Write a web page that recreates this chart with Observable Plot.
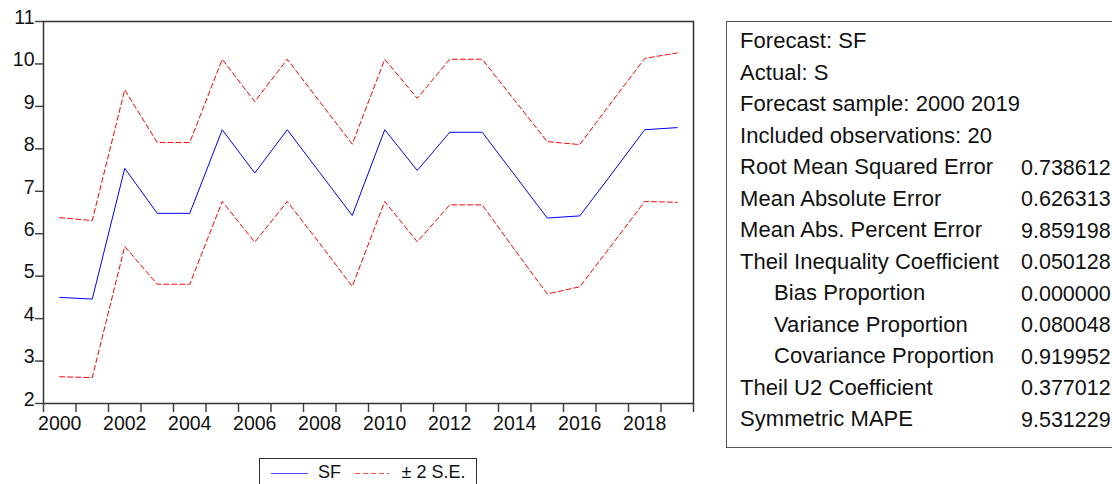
<!DOCTYPE html>
<html><head><meta charset="utf-8">
<script src="https://cdn.jsdelivr.net/npm/d3@7"></script>
<script src="https://cdn.jsdelivr.net/npm/@observablehq/plot@0.6"></script>
<style>
html,body{margin:0;padding:0;background:#fff;overflow:hidden;width:1112px;height:484px;}
#wrap{position:relative;width:1112px;height:484px;font-family:"Liberation Sans",Arial,sans-serif;color:#111;}
#wrap svg.chart{display:block;}
#wrap svg.chart text{font-size:19.5px !important;font-family:"Liberation Sans",Arial,sans-serif !important;}
#stats{position:absolute;left:726px;top:21px;width:420px;height:427px;border:1px solid #555;box-sizing:border-box;background:#fff;}
.row{position:absolute;font-size:21.5px;line-height:24px;white-space:nowrap;color:#111;}
.row.lab{font-size:22px;letter-spacing:0.05px;}
#legend{margin-left:259px;margin-top:3px;width:218px;height:40px;border:1px solid #333;box-sizing:border-box;}
</style></head><body><div id="wrap"></div>
<script>
// ---- data ----
const years = [2000,2001,2002,2003,2004,2005,2006,2007,2008,2009,2010,2011,2012,2013,2014,2015,2016,2017,2018,2019];
const sf    = [4.50,4.46,7.54,6.48,6.48,8.45,7.43,8.45,7.44,6.43,8.45,7.49,8.39,8.39,7.38,6.37,6.42,7.43,8.45,8.50];
const upper = [6.38,6.31,9.39,8.15,8.15,10.11,9.11,10.11,9.11,8.11,10.11,9.19,10.11,10.11,9.14,8.17,8.10,9.12,10.13,10.26];
const lower = [2.63,2.61,5.70,4.81,4.81,6.76,5.80,6.76,5.77,4.76,6.76,5.81,6.68,6.68,5.62,4.58,4.75,5.75,6.76,6.74];
const yTicks = [2,3,4,5,6,7,8,9,10,11];
const xTickYears = [2000,2001,2002,2003,2004,2005,2006,2007,2008,2009,2010,2011,2012,2013,2014,2015,2016,2017,2018,2019,2020];
const xLabelYears = [2000,2002,2004,2006,2008,2010,2012,2014,2016,2018];
const statLabels = ["Forecast: SF","Actual: S","Forecast sample: 2000 2019","Included observations: 20",
  "Root Mean Squared Error","Mean Absolute Error","Mean Abs. Percent Error","Theil Inequality Coefficient",
  "Bias Proportion","Variance Proportion","Covariance Proportion","Theil U2 Coefficient","Symmetric MAPE"];
const statValues = ["","","","","0.738612","0.626313","9.859198","0.050128","0.000000","0.080048","0.919952","0.377012","9.531229"];
const statIndent = [false,false,false,false,false,false,false,false,true,true,true,false,false];
const legendLabels = ["SF","\u00B1 2 S.E."];

const rows = years.map((y,i)=>({year:y, mid:y+0.5, sf:sf[i], upper:upper[i], lower:lower[i]}));
const font = '"Liberation Sans", Arial, sans-serif';

const chart = Plot.plot({
  width:1112, height:455,
  marginLeft:43, marginTop:21, marginRight:419, marginBottom:52,
  style:{fontFamily:font, fontSize:"19.5px", color:"#111", background:"#fff", overflow:"visible"},
  x:{domain:[2000,2020], label:null},
  y:{domain:[2,11], label:null},
  marks:[
    Plot.axisY(yTicks,{tickSize:8, stroke:"#444", strokeWidth:1.5, tickFormat:()=>"", label:null}),
    Plot.axisY(yTicks,{tickSize:0, tickPadding:9, dy:-4, label:null, tickFormat:d=>String(d)}),
    Plot.axisX(xTickYears,{tickSize:9, stroke:"#444", strokeWidth:1.5, tickFormat:()=>"", label:null}),
    Plot.axisX(xLabelYears.map(d=>d+0.5),{tickSize:0, tickPadding:13, tickFormat:d=>String(Math.floor(d)), label:null}),
    Plot.line(rows,{x:"mid", y:"upper", stroke:"#ff0000", strokeWidth:1, strokeDasharray:"5,3"}),
    Plot.line(rows,{x:"mid", y:"lower", stroke:"#ff0000", strokeWidth:1, strokeDasharray:"5,3"}),
    Plot.line(rows,{x:"mid", y:"sf", stroke:"#0000ff", strokeWidth:1}),
    Plot.frame({stroke:"#333", strokeWidth:1.5})
  ]
});
chart.classList.add("chart");
const wrap = document.getElementById("wrap");
wrap.appendChild(chart);

// legend below the chart
const legend = document.createElement("div");
legend.id = "legend";
legend.innerHTML = `<svg width="216" height="38" style="display:block">
  <line x1="11" x2="48" y1="14.5" y2="14.5" stroke="#4a4aff" stroke-width="1.2"/>
  <text x="58" y="18.5" font-family='${font}' font-size="18" fill="#111">${legendLabels[0]}</text>
  <line x1="95" x2="129" y1="14.5" y2="14.5" stroke="#ff4a4a" stroke-width="1.2" stroke-dasharray="5,3"/>
  <text x="141.5" y="18.5" font-family='${font}' font-size="18" fill="#111">${legendLabels[1]}</text>
</svg>`;
wrap.appendChild(legend);

// statistics box
const stats = document.createElement("div");
stats.id = "stats";
statLabels.forEach((lab,i)=>{
  const top = 7.5 + 31.5*i;
  const a = document.createElement("div");
  a.className = "row lab";
  a.style.top = (top-0.5)+"px";
  a.style.left = (statIndent[i] ? 47 : 13)+"px";
  a.textContent = lab;
  stats.appendChild(a);
  if (statValues[i]) {
    const b = document.createElement("div");
    b.className = "row";
    b.style.top = top+"px";
    b.style.left = "294px";
    b.textContent = statValues[i];
    stats.appendChild(b);
  }
});
wrap.appendChild(stats);
</script></body></html>
